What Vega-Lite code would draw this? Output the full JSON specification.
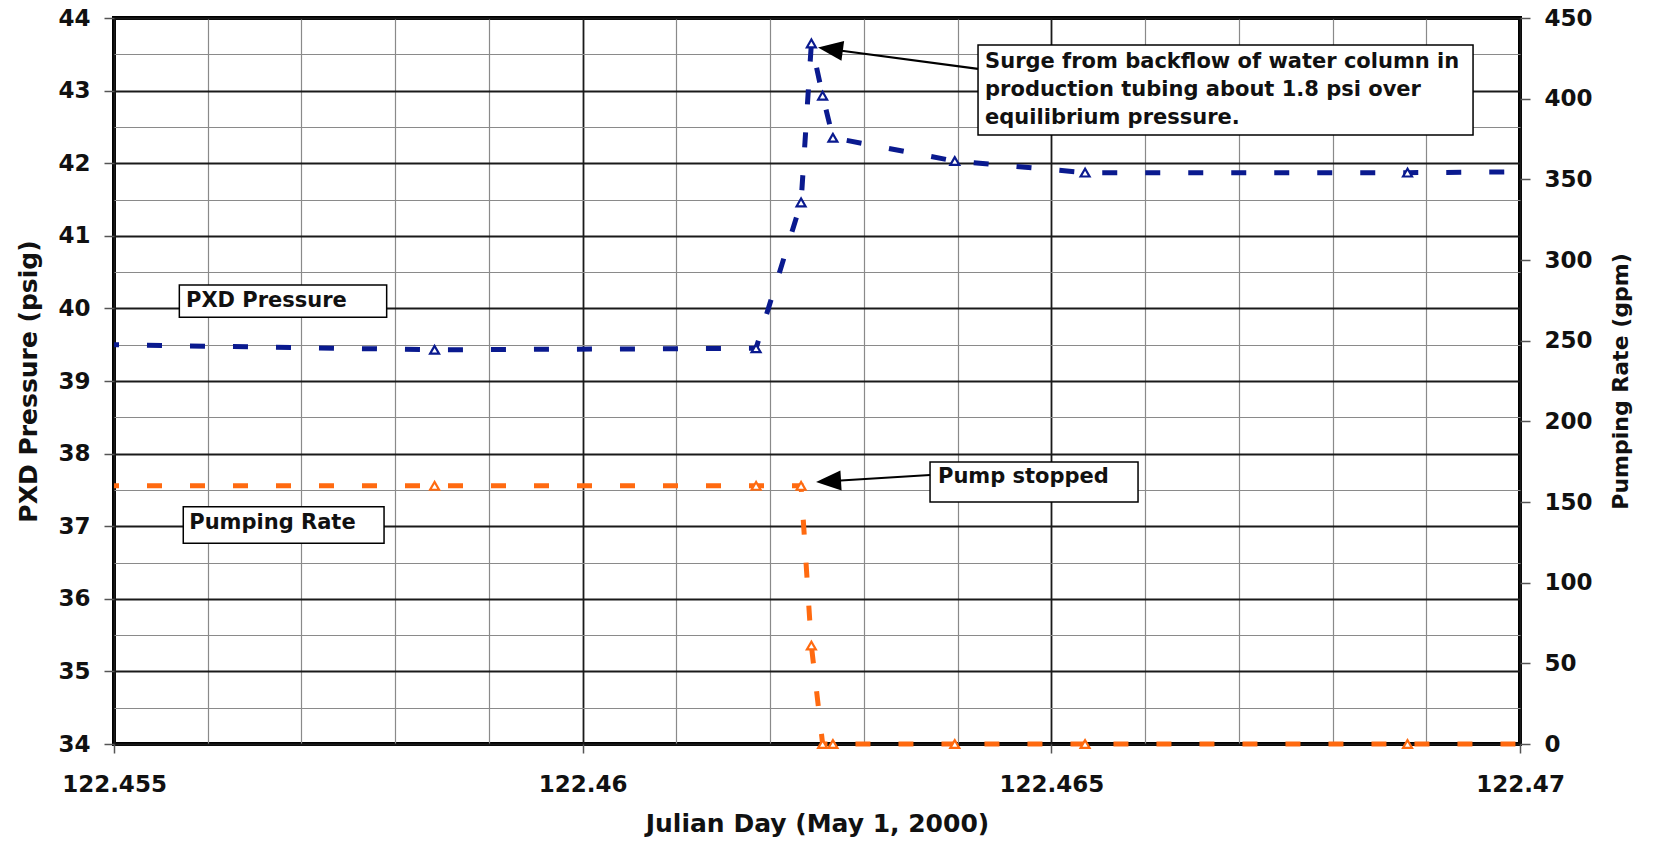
{
  "$schema": "https://vega.github.io/schema/vega-lite/v6.json",
  "width": 1406,
  "height": 726,
  "autosize": {"type": "none"},
  "padding": {"left": 114, "top": 18, "right": 133, "bottom": 102},
  "background": "white",
  "config": {
    "view": {"stroke": "black", "strokeWidth": 4},
    "font": "DejaVu Sans",
    "axis": {
      "labelFont": "DejaVu Sans", "labelFontWeight": "bold", "labelFontSize": 23, "labelColor": "#111",
      "titleFont": "DejaVu Sans", "titleFontWeight": "bold", "titleFontSize": 25, "titleColor": "#111",
      "domain": false, "tickColor": "#555", "tickWidth": 1.5
    }
  },
  "datasets": {
    "series": [
      {"t": 122.455, "pressure": 39.50, "rate": 160},
      {"t": 122.45842, "pressure": 39.43, "rate": 160},
      {"t": 122.46185, "pressure": 39.45, "rate": 160},
      {"t": 122.46233, "pressure": 41.46, "rate": 160},
      {"t": 122.46244, "pressure": 43.65, "rate": 61},
      {"t": 122.46256, "pressure": 42.93, "rate": 0},
      {"t": 122.46267, "pressure": 42.35, "rate": 0},
      {"t": 122.46397, "pressure": 42.03, "rate": 0},
      {"t": 122.46536, "pressure": 41.87, "rate": 0},
      {"t": 122.4688, "pressure": 41.87, "rate": 0},
      {"t": 122.47, "pressure": 41.88, "rate": 0}
    ],
    "boxes": [
      {"id": "surge", "x1": 122.464218, "x2": 122.469499, "y1": 43.628, "y2": 42.388},
      {"id": "pump", "x1": 122.463706, "x2": 122.465925, "y1": 37.884, "y2": 37.333},
      {"id": "pxd", "x1": 122.455697, "x2": 122.457909, "y1": 40.322, "y2": 39.877},
      {"id": "rate", "x1": 122.455739, "x2": 122.457881, "y1": 37.269, "y2": 36.764}
    ],
    "notes": [
      {"label": "Surge from backflow of water column in", "x": 122.464293, "y": 43.311},
      {"label": "production tubing about 1.8 psi over", "x": 122.464293, "y": 42.926},
      {"label": "equilibrium pressure.", "x": 122.464293, "y": 42.540},
      {"label": "Pump stopped", "x": 122.463791, "y": 37.595},
      {"label": "PXD Pressure", "x": 122.455768, "y": 40.023},
      {"label": "Pumping Rate", "x": 122.455803, "y": 36.961}
    ],
    "arrows": [
      {"id": "surge", "x1": 122.464218, "y1": 43.298, "hx": 122.462643, "hy": 43.570},
      {"id": "pump", "x1": 122.463706, "y1": 37.705, "hx": 122.462623, "hy": 37.619}
    ]
  },
  "layer": [
    {
      "layer": [
        {
          "data": {"name": "series"},
          "mark": {"type": "line", "color": "#0a1a8f", "strokeWidth": 5, "strokeDash": [15, 28], "strokeDashOffset": 10, "strokeCap": "butt"},
          "encoding": {
            "x": {
              "field": "t", "type": "quantitative",
              "scale": {"domain": [122.455, 122.47], "nice": false, "zero": false},
              "title": "Julian Day (May 1, 2000)",
              "axis": {
                "values": [122.455, 122.456, 122.457, 122.458, 122.459, 122.46, 122.461, 122.462, 122.463, 122.464, 122.465, 122.466, 122.467, 122.468, 122.469, 122.47],
                "tickCount": 40,
                "grid": true,
                "gridColor": {"condition": {"test": "round(datum.value*1000) % 5 == 0", "value": "#1a1a1a"}, "value": "#8a8a8a"},
                "gridWidth": {"condition": {"test": "round(datum.value*1000) % 5 == 0", "value": 1.8}, "value": 1.2},
                "tickOpacity": {"condition": {"test": "round(datum.value*1000) % 5 == 0", "value": 1}, "value": 0},
                "tickSize": 9,
                "labelExpr": "round(datum.value*1000) % 5 == 0 ? format(datum.value, '.6~r') : ''",
                "labelFlush": false,
                "labelOverlap": false,
                "labelPadding": 20,
                "titlePadding": 15
              }
            },
            "y": {
              "field": "pressure", "type": "quantitative",
              "scale": {"domain": [34, 44], "nice": false, "zero": false},
              "title": "PXD Pressure (psig)",
              "axis": {
                "orient": "left",
                "values": [34, 34.5, 35, 35.5, 36, 36.5, 37, 37.5, 38, 38.5, 39, 39.5, 40, 40.5, 41, 41.5, 42, 42.5, 43, 43.5, 44],
                "tickCount": 40,
                "grid": true,
                "gridColor": {"condition": {"test": "round(datum.value*2) % 2 == 0", "value": "#1a1a1a"}, "value": "#8a8a8a"},
                "gridWidth": {"condition": {"test": "round(datum.value*2) % 2 == 0", "value": 1.8}, "value": 1.2},
                "tickOpacity": {"condition": {"test": "round(datum.value*2) % 2 == 0", "value": 1}, "value": 0},
                "tickSize": 10,
                "labelExpr": "round(datum.value*2) % 2 == 0 ? format(datum.value, '.0f') : ''",
                "labelOverlap": false,
                "labelPadding": 14,
                "titlePadding": 16
              }
            }
          }
        },
        {
          "data": {"name": "series"},
          "transform": [{"filter": "datum.t > 122.4551 && datum.t < 122.4699"}],
          "mark": {"type": "point", "shape": "triangle-up", "size": 80, "filled": true, "fill": "white", "stroke": "#0a1a8f", "strokeWidth": 2.2, "opacity": 1},
          "encoding": {
            "x": {"field": "t", "type": "quantitative", "title": "Julian Day (May 1, 2000)"},
            "y": {"field": "pressure", "type": "quantitative", "title": "PXD Pressure (psig)"}
          }
        },
        {
          "data": {"name": "boxes"},
          "mark": {"type": "rect", "fill": "white", "stroke": "black", "strokeWidth": 1.5},
          "encoding": {
            "x": {"field": "x1", "type": "quantitative", "title": "Julian Day (May 1, 2000)"},
            "x2": {"field": "x2"},
            "y": {"field": "y1", "type": "quantitative", "title": "PXD Pressure (psig)"},
            "y2": {"field": "y2"}
          }
        },
        {
          "data": {"name": "notes"},
          "mark": {"type": "text", "align": "left", "baseline": "alphabetic", "font": "DejaVu Sans", "fontWeight": "bold", "fontSize": 21, "color": "#111"},
          "encoding": {
            "x": {"field": "x", "type": "quantitative", "title": "Julian Day (May 1, 2000)"},
            "y": {"field": "y", "type": "quantitative", "title": "PXD Pressure (psig)"},
            "text": {"field": "label", "type": "nominal"}
          }
        },
        {
          "data": {"name": "arrows"},
          "mark": {"type": "rule", "color": "black", "strokeWidth": 2.2},
          "encoding": {
            "x": {"field": "x1", "type": "quantitative", "title": "Julian Day (May 1, 2000)"},
            "y": {"field": "y1", "type": "quantitative", "title": "PXD Pressure (psig)"},
            "x2": {"field": "hx"},
            "y2": {"field": "hy"}
          }
        },
        {
          "data": {"name": "arrows"},
          "transform": [{"filter": "datum.id == 'surge'"}],
          "mark": {"type": "point", "shape": "M-1,0L1,-0.8L1,0.8Z", "size": 625, "filled": true, "color": "black", "opacity": 1, "angle": 7.65},
          "encoding": {
            "x": {"field": "hx", "type": "quantitative", "title": "Julian Day (May 1, 2000)"},
            "y": {"field": "hy", "type": "quantitative", "title": "PXD Pressure (psig)"}
          }
        },
        {
          "data": {"name": "arrows"},
          "transform": [{"filter": "datum.id == 'pump'"}],
          "mark": {"type": "point", "shape": "M-1,0L1,-0.8L1,0.8Z", "size": 625, "filled": true, "color": "black", "opacity": 1, "angle": -3.46},
          "encoding": {
            "x": {"field": "hx", "type": "quantitative", "title": "Julian Day (May 1, 2000)"},
            "y": {"field": "hy", "type": "quantitative", "title": "PXD Pressure (psig)"}
          }
        }
      ]
    },
    {
      "layer": [
        {
          "data": {"name": "series"},
          "mark": {"type": "line", "color": "#ff6a10", "strokeWidth": 5, "strokeDash": [15, 28], "strokeDashOffset": 10, "strokeCap": "butt"},
          "encoding": {
            "x": {"field": "t", "type": "quantitative", "title": "Julian Day (May 1, 2000)"},
            "y": {
              "field": "rate", "type": "quantitative",
              "scale": {"domain": [0, 450], "nice": false, "zero": false},
              "title": "Pumping Rate (gpm)",
              "axis": {
                "orient": "right",
                "values": [0, 50, 100, 150, 200, 250, 300, 350, 400, 450],
                "tickCount": 40,
                "grid": false,
                "tickSize": 10,
                "labelPadding": 14,
                "labelAlign": "left",
                "titleAngle": 270,
                "titleBaseline": "top",
                "titleFontSize": 22,
                "titlePadding": 18
              }
            }
          }
        },
        {
          "data": {"name": "series"},
          "transform": [{"filter": "datum.t > 122.4551 && datum.t < 122.4699"}],
          "mark": {"type": "point", "shape": "triangle-up", "size": 80, "filled": true, "fill": "white", "stroke": "#ff6a10", "strokeWidth": 2.2, "opacity": 1},
          "encoding": {
            "x": {"field": "t", "type": "quantitative", "title": "Julian Day (May 1, 2000)"},
            "y": {"field": "rate", "type": "quantitative", "title": "Pumping Rate (gpm)"}
          }
        }
      ]
    }
  ],
  "resolve": {"scale": {"y": "independent"}}
}
